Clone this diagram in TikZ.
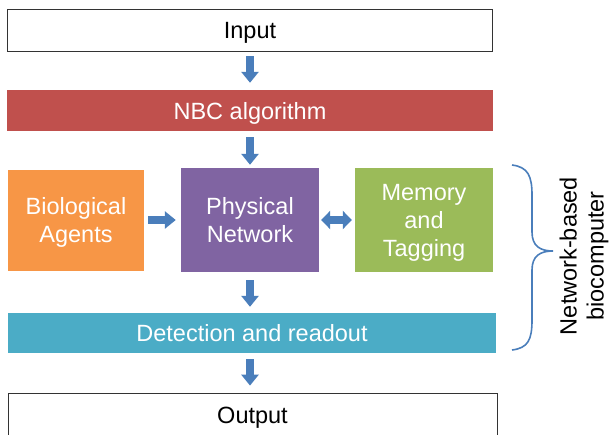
\documentclass[tikz,border=0pt]{standalone}
\usepackage{fontspec}
\setmainfont{Liberation Sans}
\usetikzlibrary{arrows.meta}
\definecolor{nbcred}{HTML}{C0504D}
\definecolor{bioorange}{HTML}{F79646}
\definecolor{netpurple}{HTML}{8064A2}
\definecolor{memgreen}{HTML}{9BBB59}
\definecolor{detcyan}{HTML}{4BACC6}
\definecolor{arrowblue}{HTML}{4A7EBB}
\tikzset{
  box/.style={rectangle, inner sep=0pt, text depth=0pt, text=white, align=center, font=\fontsize{23.5}{28}\selectfont},
  plainbox/.style={box, draw=black!80, line width=0.8pt, fill=white, text=black},
  sidelabel/.style={inner sep=0pt, align=center, rotate=90, font=\fontsize{23.5}{27}\selectfont},
  bigarrow/.style={arrowblue, line width=8pt, -{Triangle[length=11pt,width=17pt]}},
  dblarrow/.style={arrowblue, line width=8pt, {Triangle[length=9pt,width=18pt]}-{Triangle[length=9pt,width=18pt]}},
}
\begin{document}
\begin{tikzpicture}[x=1pt,y=-1pt]
\useasboundingbox (0,0) rectangle (610,434);
\node (input) at (250,30) [plainbox, minimum width=485, minimum height=42] {Input};
\node (nbc) at (250,110.5) [box, fill=nbcred, minimum width=486, minimum height=41] {NBC algorithm};
\node (bio) at (76,220) [box, fill=bioorange, minimum width=136, minimum height=101] {Biological\\Agents};
\node (phys) at (250,220) [box, fill=netpurple, minimum width=138, minimum height=104] {Physical\\Network};
\node (mem) at (424,220) [box, fill=memgreen, minimum width=138, minimum height=104] {Memory\\and\\Tagging};
\node (det) at (252,333) [box, fill=detcyan, minimum width=488, minimum height=40] {Detection and readout};
\node (out) at (252.5,415) [plainbox, minimum width=489, minimum height=44] {Output};
\draw[bigarrow] ([yshift=-5pt]input.south) -- ([yshift=7pt]nbc.north);
\draw[bigarrow] ([yshift=-6pt]nbc.south) -- ([yshift=3pt]phys.north);
\draw[bigarrow] ([xshift=4pt]bio.east) -- ([xshift=-5pt]phys.west);
\draw[dblarrow] ([xshift=2pt]phys.east) -- ([xshift=-3pt]mem.west);
\draw[bigarrow] ([yshift=-8pt]phys.south) -- ([yshift=6pt]det.north -| phys.south);
\draw[bigarrow] ([yshift=-6pt]det.south -| phys.south) -- ([yshift=7pt]out.north -| phys.south);
\draw[arrowblue, line width=1.6pt] (512,165) .. controls (528,167) and (532,176) .. (532,195) -- (532,232) .. controls (532,246) and (540,251) .. (553,251) .. controls (540,251) and (532,256) .. (532,270) -- (532,320) .. controls (532,340) and (528,348) .. (512,350);
\node (nbclabel) at (584,256) [sidelabel] {Network-based\\biocomputer};
\end{tikzpicture}
\end{document}
